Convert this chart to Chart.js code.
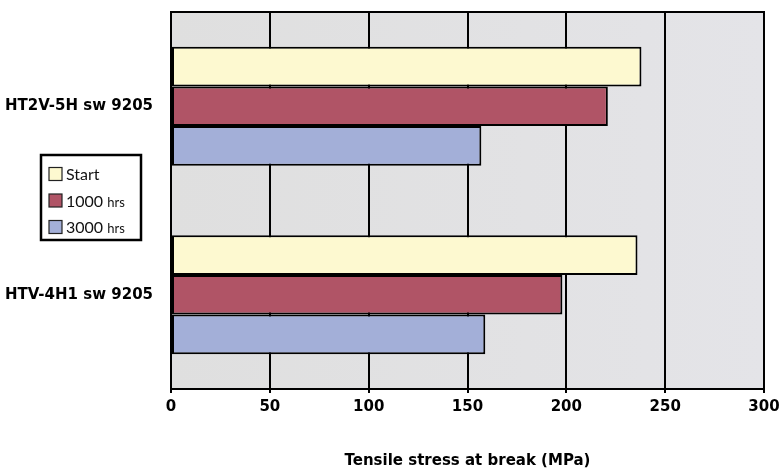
<!DOCTYPE html>
<html>
<head>
<meta charset="utf-8">
<script src="https://cdn.jsdelivr.net/npm/chart.js@4"></script>
<style>
  html, body { margin: 0; padding: 0; background: #ffffff; }
  #wrap { width: 781px; height: 474px; position: relative; }
</style>
</head>
<body>
<div id="wrap"><canvas id="chart"></canvas></div>
<script>
// Cable types and tensile stress at break (MPa) after ageing
const categories = ['HT2V-5H sw 9205', 'HTV-4H1 sw 9205'];
const seriesLabels = ['Start', '1000 hrs', '3000 hrs'];
const startValues = [238, 236];
const hrs1000Values = [221, 198];
const hrs3000Values = [157, 159];
const xTicks = [0, 50, 100, 150, 200, 250, 300];
const axisTitle = 'Tensile stress at break (MPa)';

const seriesColors = ['#fdf9d0', '#b05466', '#a3afd8'];
const labelFont = '"DejaVu Sans", sans-serif';
const legendFont = 'Lato, "Open Sans", sans-serif';

// Plot background with a faint light-grey wash
const plotBackground = {
  id: 'plotBackground',
  beforeDraw(chart) {
    const { ctx, chartArea: a } = chart;
    const g = ctx.createLinearGradient(a.left, 0, a.right, 0);
    g.addColorStop(0, '#dfdfdf');
    g.addColorStop(0.6, '#e2e2e4');
    g.addColorStop(1, '#e4e4e8');
    ctx.save();
    ctx.fillStyle = g;
    ctx.fillRect(a.left, a.top, a.right - a.left, a.bottom - a.top);
    ctx.restore();
  }
};

// Black frame around the plot area
const plotFrame = {
  id: 'plotFrame',
  afterDatasetsDraw(chart) {
    const { ctx, chartArea: a } = chart;
    ctx.save();
    ctx.strokeStyle = '#000';
    ctx.lineWidth = 2;
    ctx.strokeRect(a.left, a.top, a.right - a.left, a.bottom - a.top);
    ctx.restore();
  }
};

// Boxed legend on the left, with the "hrs" unit set smaller
const boxedLegend = {
  id: 'boxedLegend',
  afterDraw(chart) {
    const { ctx } = chart;
    const x = 41, y = 155, w = 100, h = 85;
    ctx.save();
    ctx.fillStyle = '#ffffff';
    ctx.fillRect(x, y, w, h);
    ctx.strokeStyle = '#000';
    ctx.lineWidth = 2.5;
    ctx.strokeRect(x, y, w, h);
    chart.data.datasets.forEach((ds, i) => {
      const cy = y + 19 + i * 26.5;
      ctx.fillStyle = ds.backgroundColor;
      ctx.fillRect(49, cy - 6.5, 13, 13);
      ctx.strokeStyle = '#222';
      ctx.lineWidth = 1.2;
      ctx.strokeRect(49, cy - 6.5, 13, 13);
      const parts = ds.label.split(' ');
      ctx.fillStyle = '#111';
      ctx.textBaseline = 'alphabetic';
      ctx.textAlign = 'left';
      ctx.font = '400 16px ' + legendFont;
      ctx.fillText(parts[0], 66, cy + 6);
      if (parts[1]) {
        const wNum = ctx.measureText(parts[0] + ' ').width;
        ctx.font = '400 13px ' + legendFont;
        ctx.fillText(parts[1], 66 + wNum, cy + 6);
      }
    });
    ctx.restore();
  }
};

const datasetValues = [startValues, hrs1000Values, hrs3000Values];

new Chart(document.getElementById('chart'), {
  type: 'bar',
  data: {
    labels: categories,
    datasets: seriesLabels.map((label, i) => ({
      label,
      data: datasetValues[i],
      backgroundColor: seriesColors[i],
      borderColor: '#000',
      borderWidth: 2,
      borderSkipped: false,
      categoryPercentage: 0.63,
      barPercentage: 1.0
    }))
  },
  options: {
    indexAxis: 'y',
    responsive: true,
    maintainAspectRatio: false,
    animation: false,
    layout: { padding: { left: 0, right: 17, top: 12, bottom: 0 } },
    plugins: {
      legend: { display: false },
      tooltip: { enabled: false }
    },
    scales: {
      x: {
        min: 0,
        max: 300,
        afterBuildTicks(scale) {
          scale.ticks = xTicks.map(v => ({ value: v }));
        },
        afterFit(scale) {
          scale.height = 85;
          scale.paddingLeft = 0;
          scale.paddingRight = 0;
        },
        grid: {
          color: '#000',
          lineWidth: 2,
          drawOnChartArea: true,
          drawTicks: true,
          tickLength: 4
        },
        border: { display: false },
        ticks: {
          color: '#000',
          padding: 5,
          maxRotation: 0,
          font: { family: labelFont, size: 15, weight: 'bold' }
        },
        title: {
          display: true,
          text: axisTitle,
          color: '#000',
          padding: { top: 4, bottom: 4 },
          font: { family: labelFont, size: 15, weight: 'bold' }
        }
      },
      y: {
        afterFit(scale) {
          scale.width = 171;
          scale.paddingTop = 0;
          scale.paddingBottom = 0;
        },
        grid: { display: false },
        border: { display: false },
        ticks: {
          color: '#000',
          padding: 10,
          font: { family: labelFont, size: 15, weight: 'bold' }
        }
      }
    }
  },
  plugins: [plotBackground, plotFrame, boxedLegend]
});
</script>
</body>
</html>
